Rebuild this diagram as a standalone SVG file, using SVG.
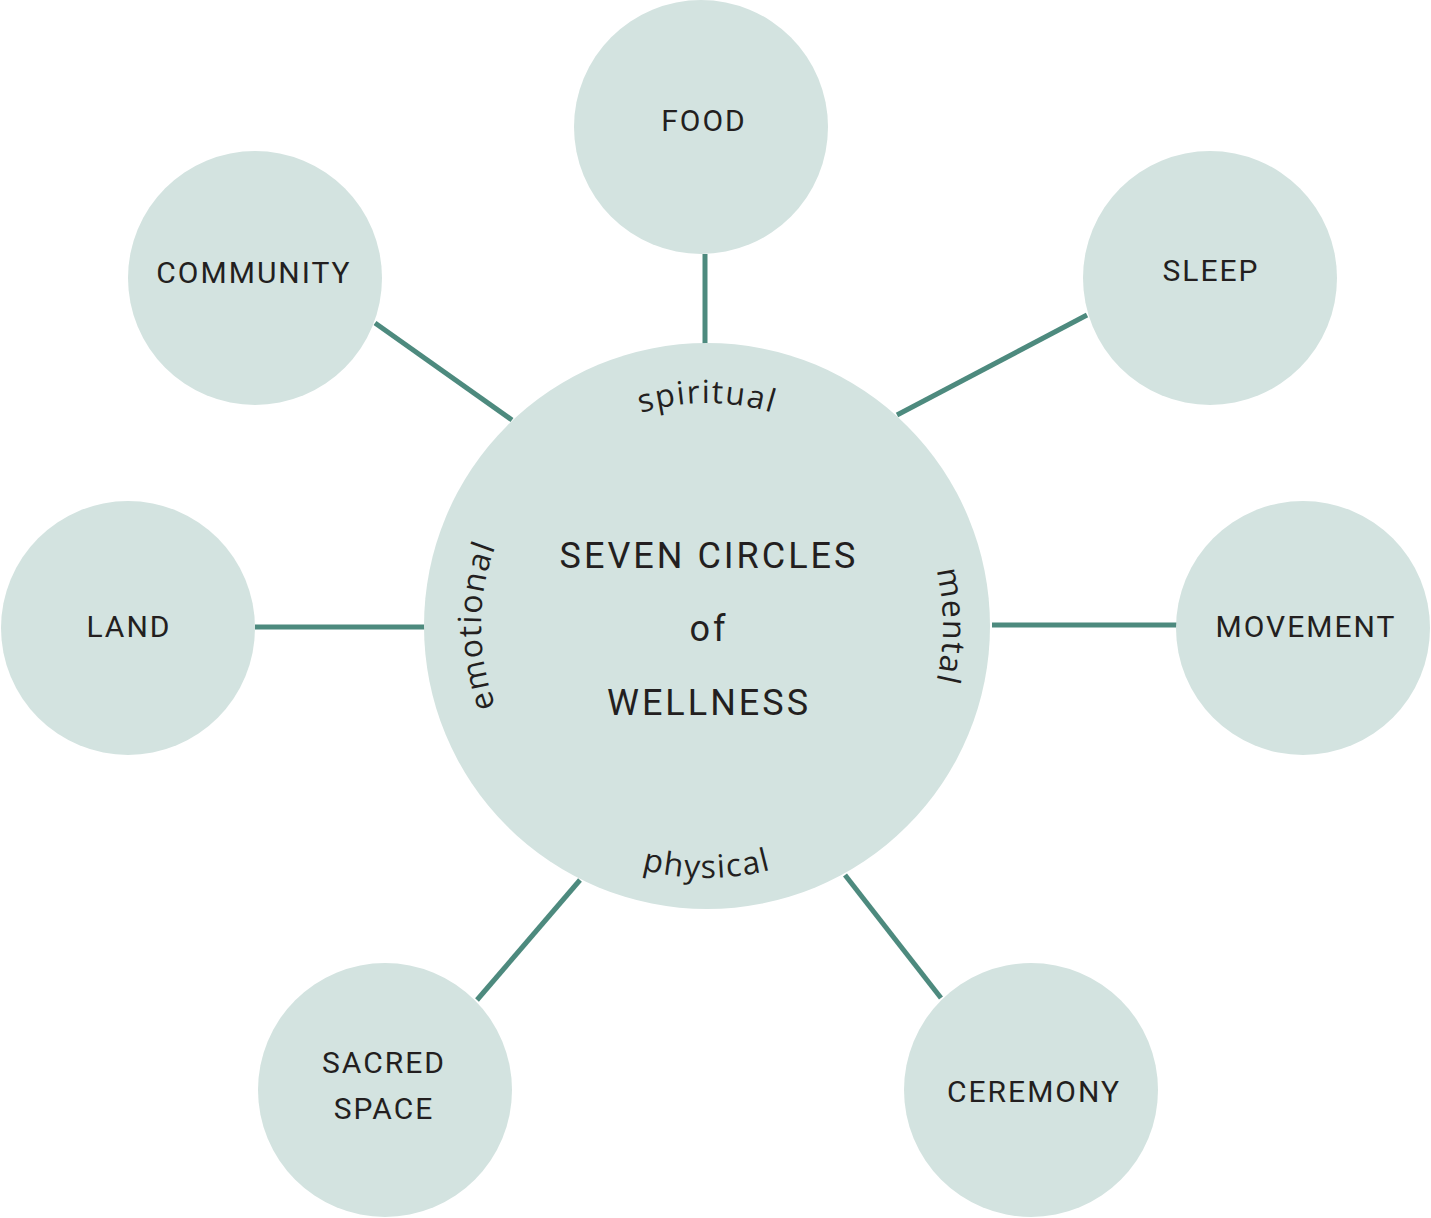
<svg xmlns="http://www.w3.org/2000/svg" xmlns:xlink="http://www.w3.org/1999/xlink" width="1431" height="1218" viewBox="0 0 1431 1218">
<style>
.node{fill:#d3e3e0;}
.lbl{font-family:Roboto,"Liberation Sans",Arial,sans-serif;font-size:30px;letter-spacing:2px;fill:#231f20;text-anchor:middle;}
.title{font-family:Roboto,"Liberation Sans",Arial,sans-serif;font-size:36px;letter-spacing:3px;fill:#231f20;text-anchor:middle;}
.arc{font-family:"Open Sans","DejaVu Sans",sans-serif;font-size:32px;letter-spacing:1.5px;fill:#231f20;}
.conn line{stroke:#4d8a7e;stroke-width:5;}
</style>
<defs>
<path id="pSpiritual" d="M 484 626 A 223 223 0 0 1 930 626"/>
<path id="pEmotional" d="M 707 852 A 226 226 0 0 1 707 400"/>
<path id="pMental" d="M 707 390 A 236 236 0 0 1 707 862"/>
<path id="pPhysical" d="M 455 626 A 252 252 0 0 0 959 626"/>
</defs>
<rect width="1431" height="1218" fill="#ffffff"/>
<g id="connectors" class="conn">
<line x1="705" y1="254" x2="705" y2="345"/>
<line x1="375" y1="323" x2="512" y2="420"/>
<line x1="1087" y1="315" x2="897" y2="415"/>
<line x1="255" y1="627" x2="425" y2="627"/>
<line x1="992" y1="625" x2="1177" y2="625"/>
<line x1="477" y1="1000" x2="580" y2="880"/>
<line x1="941" y1="998" x2="845" y2="875"/>
</g>
<g id="center">
<circle class="node" cx="707" cy="626" r="283"/>
<text class="title" x="709" y="568">SEVEN CIRCLES</text>
<text class="title" x="709" y="641">of</text>
<text class="title" x="709" y="715">WELLNESS</text>
<text class="arc"><textPath xlink:href="#pSpiritual" startOffset="50%" text-anchor="middle">spiritual</textPath></text>
<text class="arc"><textPath xlink:href="#pEmotional" startOffset="50%" text-anchor="middle">emotional</textPath></text>
<text class="arc"><textPath xlink:href="#pMental" startOffset="50%" text-anchor="middle">mental</textPath></text>
<text class="arc"><textPath xlink:href="#pPhysical" startOffset="50%" text-anchor="middle">physical</textPath></text>
</g>
<g id="food"><circle class="node" cx="701" cy="127" r="127"/><text class="lbl" x="704" y="131">FOOD</text></g>
<g id="community"><circle class="node" cx="255" cy="278" r="127"/><text class="lbl" x="254" y="283">COMMUNITY</text></g>
<g id="sleep"><circle class="node" cx="1210" cy="278" r="127"/><text class="lbl" x="1211" y="281">SLEEP</text></g>
<g id="land"><circle class="node" cx="128" cy="628" r="127"/><text class="lbl" x="129" y="637">LAND</text></g>
<g id="movement"><circle class="node" cx="1303" cy="628" r="127"/><text class="lbl" x="1306" y="637">MOVEMENT</text></g>
<g id="sacred-space"><circle class="node" cx="385" cy="1090" r="127"/><text class="lbl" x="384" y="1073">SACRED</text><text class="lbl" x="384" y="1119">SPACE</text></g>
<g id="ceremony"><circle class="node" cx="1031" cy="1090" r="127"/><text class="lbl" x="1034" y="1102">CEREMONY</text></g>
</svg>
